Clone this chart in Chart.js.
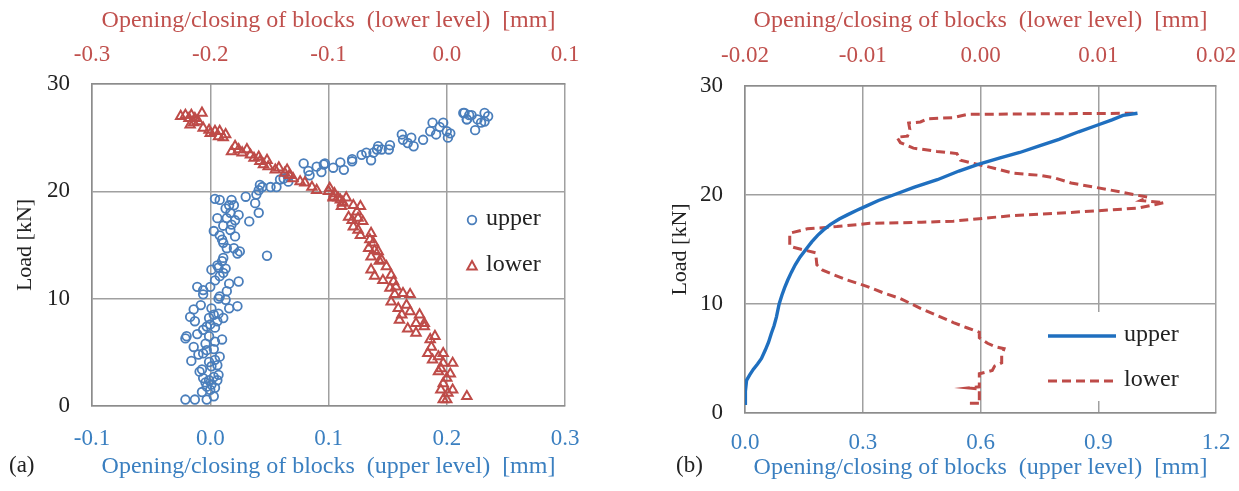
<!DOCTYPE html>
<html>
<head>
<meta charset="utf-8">
<script src="https://cdn.jsdelivr.net/npm/chart.js@4/dist/chart.umd.min.js"></script>
<style>
  html, body { margin: 0; padding: 0; background: #fff; }
  #wrap { position: relative; width: 1239px; height: 491px; }
  canvas { position: absolute; top: 0; }
  #c1 { left: 0; }
  #c2 { left: 620px; }
  .tag { position: absolute; top: 452px; font: 23px "Liberation Serif", serif; color: #222; }
</style>
</head>
<body>
<div id="wrap">
  <canvas id="c1" width="620" height="491"></canvas>
  <canvas id="c2" width="619" height="491"></canvas>
  <div class="tag" style="left:9px">(a)</div>
  <div class="tag" style="left:676px">(b)</div>
</div>
<script>
// (a) scatter: [opening mm, load kN]
const upperA = [
  [-0.021, 0.6], [-0.013, 0.6], [-0.003, 0.6], [0.003, 0.9], [-0.007, 1.3], [0.000, 1.5],
  [0.004, 1.7], [-0.004, 2.2], [-0.001, 2.4], [0.001, 2.0], [-0.003, 1.8], [0.006, 2.4],
  [-0.006, 2.6], [0.003, 2.7], [0.007, 2.9], [-0.009, 3.2], [-0.007, 3.4], [0.001, 3.7],
  [0.006, 3.8], [-0.001, 4.1], [0.004, 4.3], [-0.016, 4.2], [0.008, 4.6], [-0.010, 4.8],
  [-0.006, 4.9], [-0.003, 5.2], [0.003, 5.3], [-0.014, 5.5], [-0.004, 5.8], [0.004, 6.0],
  [0.010, 6.2], [-0.020, 6.5], [-0.011, 6.7], [-0.001, 6.5], [-0.021, 6.3], [-0.006, 7.1],
  [-0.003, 7.4], [0.000, 7.6], [0.004, 7.3], [0.006, 7.9], [-0.013, 7.9], [-0.017, 8.3],
  [-0.001, 8.2], [0.003, 8.5], [0.007, 8.6], [0.011, 8.2], [-0.014, 9.0], [0.001, 9.1],
  [-0.008, 9.4], [0.016, 9.1], [0.023, 9.3], [0.007, 10.0], [0.008, 10.2], [0.013, 9.9],
  [-0.006, 10.4], [0.014, 10.7], [-0.011, 11.1], [0.000, 11.1], [-0.006, 10.8], [0.024, 11.6],
  [0.016, 11.4], [0.004, 11.7], [0.008, 12.1], [0.011, 12.4], [0.001, 12.7], [0.007, 12.9],
  [0.013, 12.8], [0.010, 13.5], [0.011, 13.8], [0.006, 13.1], [0.025, 14.4], [0.023, 14.2],
  [0.020, 14.7], [0.014, 14.7], [0.011, 15.2], [0.010, 15.5], [0.021, 15.8], [0.008, 15.9],
  [0.017, 16.4], [0.003, 16.3], [0.011, 16.8], [0.018, 16.9], [0.021, 17.3], [0.014, 17.5],
  [0.006, 17.5], [0.024, 17.8], [0.017, 18.0], [0.013, 18.4], [0.020, 18.7], [0.016, 18.7],
  [0.004, 19.3], [0.008, 19.2], [0.030, 19.5], [0.038, 18.9], [0.041, 18.0], [0.033, 17.2],
  [0.048, 14.0], [0.018, 19.2], [0.039, 19.7], [0.041, 20.1], [0.042, 20.6], [0.044, 20.4],
  [0.051, 20.4], [0.056, 20.4], [0.059, 21.1], [0.062, 21.2], [0.066, 20.9], [0.066, 21.4],
  [0.079, 22.6], [0.083, 21.9], [0.084, 21.5], [0.090, 22.3], [0.094, 21.8], [0.096, 22.5],
  [0.097, 22.6], [0.104, 22.2], [0.110, 22.7], [0.113, 22.0], [0.120, 23.0], [0.120, 22.8],
  [0.128, 23.4], [0.132, 23.6], [0.136, 22.9], [0.138, 23.6], [0.141, 23.9], [0.142, 24.2],
  [0.145, 23.9], [0.151, 23.9], [0.152, 24.3], [0.162, 25.3], [0.163, 24.8], [0.167, 24.5],
  [0.170, 25.0], [0.172, 24.2], [0.180, 24.8], [0.186, 25.6], [0.188, 26.4], [0.191, 25.3],
  [0.194, 26.0], [0.197, 26.4], [0.200, 25.6], [0.201, 25.0], [0.203, 25.4], [0.215, 27.3],
  [0.217, 26.7], [0.219, 27.1], [0.214, 27.3], [0.221, 27.1], [0.217, 26.7], [0.226, 26.7],
  [0.232, 27.3], [0.235, 27.0], [0.229, 26.4], [0.224, 25.7], [0.232, 26.5]
];
const lowerA = [
  [-0.225, 27.0], [-0.221, 27.1], [-0.218, 26.8], [-0.216, 27.1], [-0.213, 26.8], [-0.207, 27.3],
  [-0.217, 26.2], [-0.214, 26.4], [-0.210, 26.5], [-0.206, 25.9], [-0.201, 25.7], [-0.200, 25.4],
  [-0.196, 25.6], [-0.193, 25.1], [-0.192, 25.6], [-0.189, 25.0], [-0.187, 25.3], [-0.182, 23.7],
  [-0.179, 24.2], [-0.176, 23.9], [-0.173, 23.6], [-0.169, 23.9], [-0.166, 23.4], [-0.163, 23.1],
  [-0.159, 23.2], [-0.158, 22.8], [-0.155, 22.5], [-0.152, 22.9], [-0.151, 22.3], [-0.145, 22.0],
  [-0.142, 22.2], [-0.137, 21.7], [-0.135, 22.0], [-0.133, 21.5], [-0.130, 21.2], [-0.124, 20.9],
  [-0.120, 20.8], [-0.114, 20.4], [-0.110, 20.1], [-0.100, 20.0], [-0.096, 19.5], [-0.092, 19.4],
  [-0.088, 19.0], [-0.099, 20.3], [-0.095, 19.8], [-0.096, 19.4], [-0.090, 19.2], [-0.088, 18.9],
  [-0.085, 19.4], [-0.089, 18.6], [-0.079, 18.7], [-0.073, 18.6], [-0.076, 18.1], [-0.083, 17.6],
  [-0.080, 17.3], [-0.075, 17.5], [-0.071, 17.2], [-0.079, 16.7], [-0.075, 16.4], [-0.073, 15.9],
  [-0.064, 16.1], [-0.065, 15.5], [-0.062, 15.2], [-0.066, 14.7], [-0.061, 14.5], [-0.058, 14.4],
  [-0.064, 13.9], [-0.055, 13.6], [-0.051, 13.0], [-0.057, 13.5], [-0.064, 12.7], [-0.061, 12.1],
  [-0.054, 11.7], [-0.047, 12.2], [-0.045, 11.6], [-0.048, 11.0], [-0.043, 11.1], [-0.037, 10.5],
  [-0.031, 10.4], [-0.044, 10.4], [-0.047, 9.7], [-0.041, 9.1], [-0.034, 9.4], [-0.031, 8.8],
  [-0.038, 8.5], [-0.040, 8.0], [-0.023, 8.5], [-0.019, 7.7], [-0.026, 7.7], [-0.033, 7.2],
  [-0.026, 6.8], [-0.019, 7.4], [-0.010, 6.5], [-0.014, 6.2], [-0.013, 5.5], [-0.016, 4.9],
  [-0.007, 4.6], [-0.003, 4.9], [-0.012, 4.3], [-0.003, 4.0], [0.005, 4.0], [-0.005, 3.5],
  [-0.007, 3.2], [0.003, 3.0], [0.000, 2.6], [-0.003, 2.1], [0.005, 1.5], [-0.005, 1.5],
  [0.001, 1.2], [-0.003, 0.6], [0.000, 0.6], [0.017, 0.9]
];
// (b) lines: [opening mm, load kN]
const upperB = [
  [0.000, 0.9], [0.001, 2.0], [0.004, 3.0], [0.012, 3.5], [0.021, 4.0], [0.032, 4.5],
  [0.042, 5.0], [0.052, 5.8], [0.060, 6.5], [0.067, 7.3], [0.074, 8.0], [0.080, 8.8],
  [0.087, 10.0], [0.094, 10.8], [0.101, 11.5], [0.109, 12.2], [0.118, 12.9], [0.128, 13.6],
  [0.140, 14.3], [0.155, 15.0], [0.170, 15.7], [0.185, 16.3], [0.200, 16.8], [0.218, 17.3],
  [0.240, 17.8], [0.262, 18.2], [0.285, 18.6], [0.310, 19.0], [0.340, 19.5], [0.378, 20.0],
  [0.430, 20.7], [0.490, 21.4], [0.545, 22.2], [0.594, 22.8], [0.650, 23.4], [0.700, 23.9],
  [0.750, 24.5], [0.800, 25.1], [0.850, 25.8], [0.897, 26.4], [0.935, 26.9], [0.963, 27.3],
  [1.000, 27.5]
];
const lowerB = [
  [-0.0009, 0.9], [0.0000, 0.9], [-0.0001, 1.0], [-0.0001, 2.2], [-0.0010, 2.3], [-0.0001, 2.4],
  [-0.0001, 3.6], [0.0010, 3.9], [0.0012, 4.3], [0.0018, 4.6], [0.0018, 5.3], [0.0020, 5.9],
  [0.0012, 6.1], [0.0006, 6.4], [-0.0001, 6.9], [-0.0001, 7.4], [-0.0011, 7.8], [-0.0023, 8.3],
  [-0.0036, 8.9], [-0.0051, 9.6], [-0.0068, 10.5], [-0.0082, 11.0], [-0.0096, 11.6], [-0.0113, 12.2],
  [-0.0125, 12.7], [-0.0134, 13.1], [-0.0139, 13.6], [-0.0140, 14.7], [-0.0159, 15.2], [-0.0162, 15.3],
  [-0.0162, 16.5], [-0.0147, 16.9], [-0.0122, 17.1], [-0.0094, 17.4], [-0.0050, 17.5], [-0.0023, 17.6],
  [0.0026, 18.1], [0.0077, 18.4], [0.0134, 18.8], [0.0156, 19.3], [0.0136, 19.5], [0.0142, 19.8],
  [0.0108, 20.5], [0.0077, 21.1], [0.0062, 21.6], [0.0051, 21.8], [0.0028, 22.0], [0.0006, 22.6],
  [-0.0006, 22.9], [-0.0017, 23.2], [-0.0020, 23.8], [-0.0037, 24.0], [-0.0057, 24.3], [-0.0068, 24.8],
  [-0.0071, 25.3], [-0.0062, 25.4], [-0.0060, 26.0], [-0.0061, 26.6], [-0.0051, 26.7], [-0.0045, 27.0],
  [-0.0023, 27.1], [-0.0011, 27.4], [0.0130, 27.5]
];
const loadTicks = [0, 10, 20, 30];
const seriesNames = ["upper", "lower"];

const BLUE = "#4a7ebb", RED = "#be4b48";
const BLUE_TXT = "#3a7fc0", RED_TXT = "#c0504d";
const GRID = "#a0a0a0";
const FONT = "'Liberation Serif', serif";
const xy = (arr) => arr.map((p) => ({ x: p[0], y: p[1] }));

// legend drawn inside the plot
const boxLegend = {
  id: "boxLegend",
  afterDraw(chart, args, opts) {
    const { ctx, chartArea: a } = chart;
    ctx.save();
    if (opts.bg) {
      ctx.fillStyle = "#fff";
      ctx.fillRect(a.left + opts.bg[0], a.top + opts.bg[1], opts.bg[2], opts.bg[3]);
    }
    ctx.font = "24px " + FONT;
    ctx.textBaseline = "middle";
    chart.data.datasets.forEach((ds, i) => {
      const y = a.top + opts.y + i * opts.gap;
      const x = a.left + opts.x;
      ctx.strokeStyle = ds.borderColor;
      ctx.lineWidth = ds.borderWidth;
      if (opts.lines) {
        ctx.setLineDash(ds.borderDash || []);
        ctx.beginPath();
        ctx.moveTo(x, y);
        ctx.lineTo(x + 68, y);
        ctx.stroke();
        ctx.setLineDash([]);
      } else if (ds.pointStyle === "triangle") {
        ctx.beginPath();
        ctx.moveTo(x, y - 5);
        ctx.lineTo(x + 4.7, y + 3.5);
        ctx.lineTo(x - 4.7, y + 3.5);
        ctx.closePath();
        ctx.stroke();
      } else {
        ctx.beginPath();
        ctx.arc(x, y, 4.3, 0, Math.PI * 2);
        ctx.stroke();
      }
      ctx.fillStyle = "#222";
      ctx.fillText(ds.label, x + opts.tx, y - 1);
    });
    ctx.restore();
  },
};

function axisX(pos, min, max, step, digits, color, title, fit, tickPad, titlePad, grid) {
  return {
    type: "linear", position: pos, min: min, max: max,
    ticks: { stepSize: step, color: color, padding: tickPad, font: { family: FONT, size: 23 },
      callback: (v) => v.toFixed(digits) },
    grid: { display: grid, drawTicks: false, color: GRID, lineWidth: 1.5 },
    border: { display: true, color: "#8c8c8c", width: 1.5 },
    title: { display: true, text: title, color: color, font: { family: FONT, size: 24 }, padding: titlePad },
    afterFit: (s) => { s.height = fit; s.paddingLeft = 0; s.paddingRight = 0; },
  };
}
function axisY(fit, titlePad) {
  return {
    type: "linear", min: 0, max: 30,
    afterBuildTicks: (s) => { s.ticks = loadTicks.map((v) => ({ value: v })); },
    ticks: { color: "#222", padding: 22, font: { family: FONT, size: 23 } },
    grid: { drawTicks: false, color: GRID, lineWidth: 1.5 },
    border: { display: true, color: "#8c8c8c", width: 1.5 },
    title: { display: true, text: "Load [kN]", color: "#222", font: { family: FONT, size: 22 }, padding: titlePad },
    afterFit: (s) => { s.width = fit; s.paddingTop = 0; s.paddingBottom = 0; },
  };
}

const titleUp = "Opening/closing of blocks  (upper level)  [mm]";
const titleLo = "Opening/closing of blocks  (lower level)  [mm]";

new Chart(document.getElementById("c1"), {
  type: "scatter",
  data: {
    datasets: [
      { label: seriesNames[0], data: xy(upperA), xAxisID: "x", pointStyle: "circle", pointRadius: 4.3,
        borderColor: BLUE, backgroundColor: "rgba(0,0,0,0)", borderWidth: 1.8, order: 2 },
      { label: seriesNames[1], data: xy(lowerA), xAxisID: "x2", pointStyle: "triangle", pointRadius: 5.4,
        borderColor: RED, backgroundColor: "rgba(0,0,0,0)", borderWidth: 2, order: 1 },
    ],
  },
  options: {
    responsive: false, animation: false,
    layout: { padding: { left: 0, right: 55, top: 0, bottom: 0 } },
    plugins: { legend: { display: false }, tooltip: { enabled: false },
      boxLegend: { x: 380, y: 136, gap: 46, tx: 14 } },
    scales: {
      x: axisX("bottom", -0.1, 0.3, 0.1, 1, BLUE_TXT, titleUp, 85, 19, { top: 0, bottom: 10 }, true),
      x2: axisX("top", -0.3, 0.1, 0.1, 1, RED_TXT, titleLo, 84, 15, { top: 6, bottom: 0 }, false),
      y: axisY(92, { top: 12, bottom: 0 }),
    },
  },
  plugins: [boxLegend],
});

new Chart(document.getElementById("c2"), {
  type: "scatter",
  data: {
    datasets: [
      { label: seriesNames[0], data: xy(upperB), xAxisID: "x", showLine: true, pointRadius: 0,
        borderColor: "#1f6fbf", borderWidth: 3.4, order: 1 },
      { label: seriesNames[1], data: xy(lowerB), xAxisID: "x2", showLine: true, pointRadius: 0,
        borderColor: RED, borderWidth: 3, borderDash: [9, 5], order: 2 },
    ],
  },
  options: {
    responsive: false, animation: false,
    layout: { padding: { left: 0, right: 23, top: 0, bottom: 0 } },
    plugins: { legend: { display: false }, tooltip: { enabled: false },
      boxLegend: { lines: true, x: 303, y: 250, gap: 45, tx: 76, bg: [290, 226, 180, 89] } },
    scales: {
      x: axisX("bottom", 0, 1.2, 0.3, 1, BLUE_TXT, titleUp, 78, 16, { top: 0, bottom: 9 }, true),
      x2: axisX("top", -0.02, 0.02, 0.01, 2, RED_TXT, titleLo, 86, 16, { top: 6, bottom: 0 }, false),
      y: axisY(125, { top: 47, bottom: 0 }),
    },
  },
  plugins: [boxLegend],
});
</script>
</body>
</html>
